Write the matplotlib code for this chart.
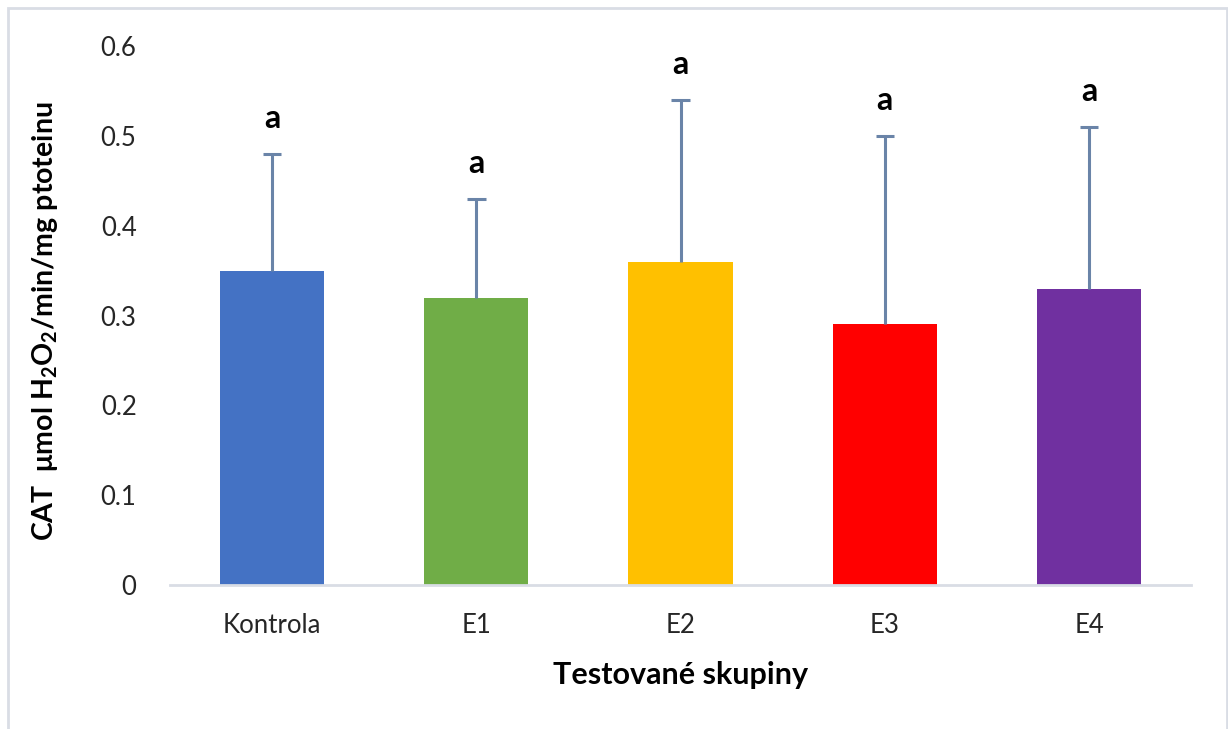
"""CAT activity per test group, bar chart with upper error bars."""

import matplotlib
matplotlib.use("Agg")
import matplotlib.pyplot as plt
import numpy as np
from matplotlib.patches import Rectangle

groups = ["Kontrola", "E1", "E2", "E3", "E4"]
means = [0.35, 0.32, 0.36, 0.29, 0.33]
errors = [0.13, 0.11, 0.18, 0.21, 0.18]
letters = ["a", "a", "a", "a", "a"]
colors = ["#4472C4", "#70AD47", "#FFC000", "#FF0000", "#7030A0"]
yticks = [0, 0.1, 0.2, 0.3, 0.4, 0.5, 0.6]

plt.rcParams["font.family"] = ["Lato", "DejaVu Sans"]
plt.rcParams["mathtext.fontset"] = "custom"
plt.rcParams["mathtext.rm"] = "Lato:bold"
plt.rcParams["mathtext.it"] = "Lato:bold"
plt.rcParams["mathtext.bf"] = "Lato:bold"

fig = plt.figure(figsize=(12.28, 7.29), dpi=100)
ax = fig.add_axes([0.1384, 0.1975, 0.8316, 0.7394])

x = np.arange(len(groups))
tops = np.array(means) + np.array(errors)
ax.bar(x, means, width=0.51, color=colors, zorder=2)
# upper error bars only (no cap at the bar top)
err_color = "#6a84a8"
ax.vlines(x, means, tops, color=err_color, linewidth=2.2, zorder=3)
ax.hlines(tops, x - 0.045, x + 0.045, color=err_color, linewidth=2.2, zorder=3)
for i, (top, lab) in enumerate(zip(tops, letters)):
    ax.text(i, top + 0.023, lab, ha="center", va="bottom",
            fontsize=23, fontweight="bold", color="black")

ax.set_xlim(-0.5, len(groups) - 0.5)
ax.set_ylim(0, 0.6)
ax.set_yticks(yticks, [f"{t:g}" for t in yticks])
ax.set_xticks(x, groups)
ax.tick_params(axis="both", length=0, labelsize=18.5, colors="#262626")
ax.tick_params(axis="y", pad=24)
ax.tick_params(axis="x", pad=20)
for side in ("left", "right", "top"):
    ax.spines[side].set_visible(False)
ax.spines["bottom"].set_color("#d9dde5")
ax.spines["bottom"].set_linewidth(2)

ax.set_xlabel("Testované skupiny", fontsize=22, fontweight="bold", labelpad=17)
fig.text(0.037, 0.56, r"CAT  μmol H$_2$O$_2$/min/mg ptoteinu", rotation=90,
         ha="center", va="center", fontsize=20.5, fontweight="bold")

# light frame around the whole chart
fig.patches.append(Rectangle((0.0065, -0.01), 0.9925, 0.999, transform=fig.transFigure,
                             fill=False, edgecolor="#d9dde5", linewidth=2))

fig.savefig("out.png", dpi=100)
